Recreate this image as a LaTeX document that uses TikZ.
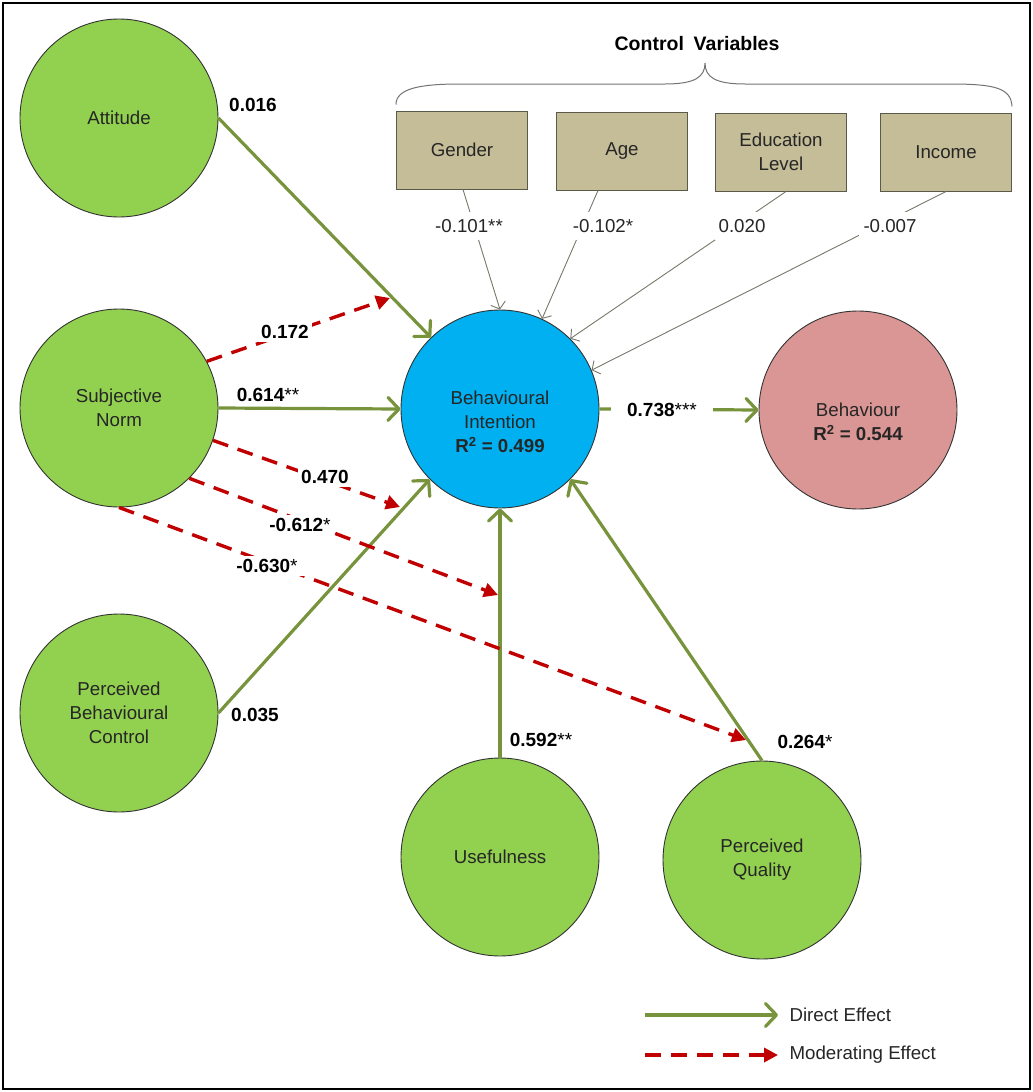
\documentclass[tikz,border=0pt]{standalone}
\usepackage{fontspec}
\setmainfont{Liberation Sans}
\usetikzlibrary{arrows.meta,calc}

\definecolor{latentgreen}{HTML}{92D050}
\definecolor{intentblue}{HTML}{00B0F0}
\definecolor{behavpink}{HTML}{DA9694}
\definecolor{controltan}{HTML}{C4BD97}
\definecolor{boxedge}{HTML}{5A5A48}
\definecolor{directgreen}{HTML}{77933C}
\definecolor{modred}{HTML}{C00000}
\definecolor{ctrlgray}{HTML}{77776A}
\definecolor{txtdark}{HTML}{262626}

\begin{document}
\begin{tikzpicture}[x=1pt,y=-1pt,
  every node/.style={font=\fontsize{18.7}{24}\selectfont, text=txtdark},
  construct/.style={circle, draw=black!80, line width=0.9pt, minimum size=198pt, inner sep=0pt, align=center},
  controlbox/.style={rectangle, draw=boxedge, line width=1pt, fill=controltan, minimum width=131pt, minimum height=78pt, align=center},
  coef/.style={font=\fontsize{19}{24}\selectfont\bfseries, text=black, fill=white, inner sep=3pt},
  ctrlcoef/.style={fill=white, inner xsep=4pt, inner ysep=7pt, text=txtdark},
  direct/.style={draw=directgreen, line width=3.2pt, -{Straight Barb[length=11pt,width=23pt,round]}},
  moderating/.style={draw=modred, line width=3.4pt, dash pattern=on 16pt off 10pt, -{Triangle[length=14pt,width=14pt]}},
  controlpath/.style={draw=ctrlgray, line width=0.9pt, -{Straight Barb[length=6pt,width=15pt]}}
]
\useasboundingbox (0,0) rectangle (1033,1092);
\draw[line width=1.4pt] (3,3) rectangle (1030,1089);

% latent constructs
\node[construct, fill=latentgreen] (att) at (119,118) {Attitude};
\node[construct, fill=latentgreen] (sn)  at (119,408) {Subjective\\Norm};
\node[construct, fill=latentgreen] (pbc) at (119,713) {Perceived\\Behavioural\\Control};
\node[construct, fill=intentblue]  (bi)  at (500,409) {};
\node[construct, fill=behavpink]   (beh) at (858,410) {};
\node[construct, fill=latentgreen] (use) at (500,857) {Usefulness};
\node[construct, fill=latentgreen] (pq)  at (762,860) {Perceived\\Quality};
\node[align=center] (bitext) at (500,422) {Behavioural\\Intention\\\textbf{R\textsuperscript{2} = 0.499}};
\node[align=center] (behtext) at (858,422) {Behaviour\\\textbf{R\textsuperscript{2} = 0.544}};

% control variables
\node[controlbox] (gender) at (462,150) {Gender};
\node[controlbox] (age)    at (622,151) {Age};
\node[controlbox] (edu)    at (781,152) {Education\\Level};
\node[controlbox] (income) at (946,152) {Income};
\node[font=\fontsize{19.5}{24}\selectfont\bfseries, text=black] (ctrltitle) at (697,44) {Control\enspace Variables};
\draw[draw=black!55, line width=1pt]
  (gender.north west) ++(0,-6) .. controls ++(0,-16) and (420,84) .. (460,84)
  -- (665,84) .. controls (695,84) and (705,77) .. (705,63)
  .. controls (705,77) and (715,84) .. (745,84)
  -- (950,84) .. controls (995,84) and (1011,88) .. ($(income.north east)+(0,-6)$);

\draw[controlpath] ([xshift=1pt]gender.south) -- (bi.90);
\draw[controlpath] ([xshift=-24pt]age.south) -- (bi.65);
\draw[controlpath] ([xshift=5pt]edu.south) -- (bi.45);
\draw[controlpath] (income.south) -- (bi.23);
\node[ctrlcoef] (cg) at (469,226) {-0.101**};
\node[ctrlcoef] (ca) at (603,226) {-0.102*};
\node[ctrlcoef] (ce) at (742,226) {0.020};
\node[ctrlcoef] (ci) at (890,226) {-0.007};

% direct effects
\draw[direct] (att.east) -- (bi.134);
\draw[direct] (sn.east) -- (bi.west);
\draw[direct] (pbc.east) -- (bi.225);
\draw[direct] (use.north) -- (bi.south);
\draw[direct] (pq.north) -- (bi.315);
\draw[direct] (bi.east) -- (beh.west);

% moderating effects
\coordinate (m1) at (390,298);
\coordinate (m2) at (400,507);
\coordinate (m3) at (498,595);
\coordinate (m4) at (746,740);
\draw[moderating] (sn.28) -- (m1);
\draw[moderating] (sn.-19) -- (m2);
\draw[moderating] (sn.-45) -- (m3);
\draw[moderating] (sn.south) -- (m4);

% path coefficients
\node[coef, fill=none] (c1) at (253,105) {0.016};
\node[coef] (c2) at (285,332) {0.172};
\node[coef, fill=none] (c3) at (268,395) {0.614\mdseries**};
\node[coef] (c4) at (325,477) {0.470};
\node[coef] (c5) at (300,525) {-0.612\mdseries*};
\node[coef, inner xsep=8pt] (c6) at (267,566) {-0.630\mdseries*};
\node[coef, fill=none] (c7) at (255,715) {0.035};
\node[coef, fill=none] (c8) at (541,740) {0.592\mdseries**};
\node[coef, fill=none] (c9) at (805,742) {0.264\mdseries*};
\node[coef, inner xsep=16pt] (c10) at (662,410) {0.738\mdseries***};

% legend
\coordinate (lg1a) at (645,1015);
\coordinate (lg1b) at (778,1015);
\coordinate (lg2a) at (645,1055);
\coordinate (lg2b) at (778,1055);
\draw[direct] (lg1a) -- (lg1b);
\draw[moderating] (lg2a) -- (lg2b);
\node[anchor=west] (lgt1) at (786,1015) {Direct Effect};
\node[anchor=west] (lgt2) at (786,1055) {Moderating Effect};
\end{tikzpicture}
\end{document}
